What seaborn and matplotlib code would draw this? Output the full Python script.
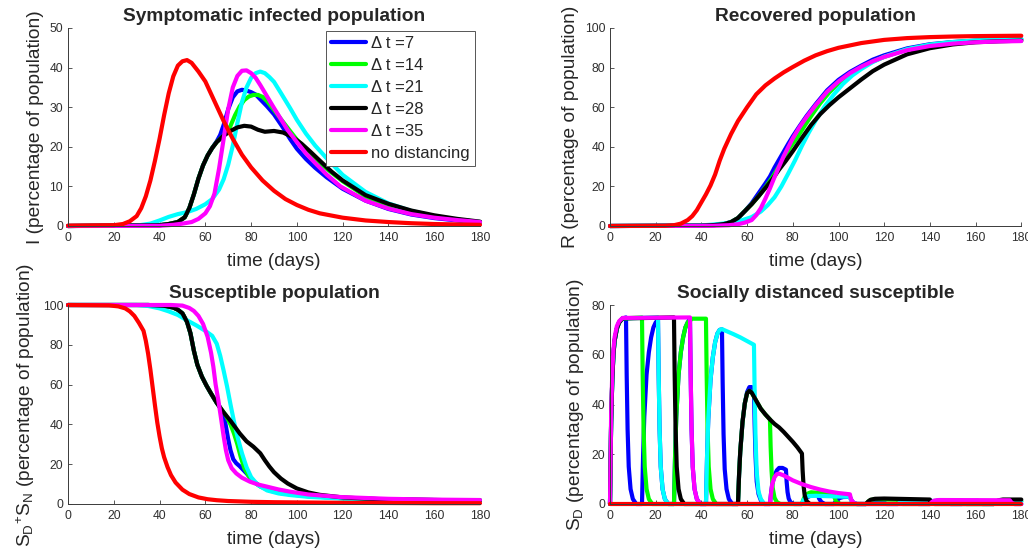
import matplotlib
matplotlib.use("Agg")
import matplotlib.pyplot as plt
import pandas as pd
import seaborn as sns

# ---------------------------------------------------------------------------
# Scenarios: distancing switched on/off every "Δt" days, plus the baseline
# ---------------------------------------------------------------------------
scenarios = ["Δ t =7", "Δ t =14", "Δ t =21", "Δ t =28", "Δ t =35", "no distancing"]
colors = ["#0000ff", "#00ff00", "#00ffff", "#000000", "#ff00ff", "#ff0000"]

x_ticks = [0, 20, 40, 60, 80, 100, 120, 140, 160, 180]

# ---------------------------------------------------------------------------
# Symptomatic infected I (% of population)
# ---------------------------------------------------------------------------
i_dt7_t = [0, 40, 44, 48, 51, 53, 55, 57, 59, 61, 63, 65, 66.5, 68, 70, 72, 74, 76, 78, 80, 82, 84, 87, 90, 94, 97, 100, 104, 108, 113, 120, 130, 140, 150, 160, 170, 180]
i_dt7_v = [0, 0.2, 0.5, 1.0, 2.2, 4.5, 8, 12, 15.3, 17.8, 19.7, 21.4, 23, 25.5, 29.5, 32.5, 34, 34.4, 34.2, 33.8, 33.2, 32, 30.2, 28.2, 24.8, 22, 19.5, 16.9, 14.7, 12.3, 9.4, 6.4, 4.3, 2.9, 2.0, 1.4, 0.9]
i_dt14_t = [0, 40, 44, 48, 51, 53, 55, 57, 59, 61, 63, 65, 68, 69.5, 71, 73, 75, 77, 79, 81, 83, 85, 87, 90, 93, 97, 100, 104, 108, 112, 116, 120, 130, 140, 150, 160, 170, 180]
i_dt14_v = [0, 0.2, 0.5, 1.0, 2.2, 4.5, 8, 12, 15.3, 17.8, 19.7, 21.2, 22.8, 23.6, 25.3, 28, 30.2, 31.8, 32.7, 33.1, 33.1, 32.6, 31.5, 29.3, 27, 24, 21.8, 19.3, 17, 14.9, 13.1, 11.3, 7.5, 5.1, 3.4, 2.4, 1.6, 1.0]
i_dt21_t = [0, 30, 36, 40, 44, 48, 52, 56, 60, 63, 66, 68, 70, 72, 74, 76, 78, 80, 82, 84, 86, 88, 90, 93, 97, 100, 104, 108, 113, 120, 130, 140, 150, 160, 170, 180]
i_dt21_v = [0, 0.1, 0.6, 1.4, 2.3, 3.0, 3.5, 4.3, 5.5, 6.8, 9.2, 11.8, 15.5, 20.3, 26, 31.3, 35, 37.4, 38.6, 39, 38.6, 37.6, 36.4, 33.6, 29.8, 26.8, 23.3, 20.3, 17.1, 12.9, 8.6, 5.7, 3.8, 2.5, 1.6, 1.0]
i_dt28_t = [0, 40, 44, 48, 51, 53, 55, 57, 59, 61, 63, 65, 68, 71, 74, 77, 80, 83, 86, 90, 94, 98, 102, 106, 110, 115, 120, 130, 140, 150, 160, 170, 180]
i_dt28_v = [0, 0.2, 0.5, 1.0, 2.2, 4.5, 8, 12, 15.3, 17.8, 19.7, 21.2, 22.8, 24, 24.9, 25.3, 25.1, 24.3, 23.8, 24, 23.6, 22.5, 20.8, 18.7, 16.5, 13.8, 11.5, 7.8, 5.6, 3.9, 2.7, 1.8, 1.1]
i_dt35_t = [0, 40, 46, 50, 54, 57, 60, 62, 64, 66, 68, 70, 72, 74, 76, 78, 80, 82, 84, 87, 90, 93, 96, 100, 104, 108, 113, 119, 130, 140, 150, 160, 170, 180]
i_dt35_v = [0, 0.05, 0.3, 0.6, 1.0, 1.8, 3.2, 5, 8.2, 14.5, 22, 29.5, 35, 37.9, 39.2, 39.3, 38.6, 37.4, 35.6, 32.7, 29.8, 27, 24.2, 21.2, 18.3, 15.9, 13, 10, 6.4, 4.4, 3.0, 2.1, 1.5, 1.0]
i_none_t = [0, 20, 24, 27, 30, 32, 34, 36, 38, 40, 42, 44, 46, 48, 50, 52, 54, 57, 60, 64, 68, 72, 76, 80, 85, 90, 95, 100, 105, 110, 120, 130, 140, 150, 160, 170, 180]
i_none_v = [0.1, 0.2, 0.5, 1.2, 2.5, 4.5, 7.5, 11.5, 16.5, 22, 28, 33.5, 37.8, 40.5, 41.6, 41.9, 41.2, 39, 36.5, 31.5, 26.5, 22, 18, 14.8, 11.5, 8.9, 6.8, 5.3, 4.1, 3.2, 2.1, 1.4, 1.0, 0.7, 0.5, 0.4, 0.3]

# ---------------------------------------------------------------------------
# Recovered R (% of population)
# ---------------------------------------------------------------------------
r_dt7_t = [0, 40, 46, 50, 53, 56, 59, 62, 65, 68, 70, 72, 74, 76, 78, 80, 83, 86, 90, 95, 100, 105, 110, 115, 120, 130, 140, 150, 160, 170, 180]
r_dt7_v = [0, 0.2, 0.5, 1.0, 2, 4, 7.5, 11.5, 16.5, 21.5, 25, 29.5, 33.5, 37.5, 41.5, 45.3, 50.5, 55.5, 61.5, 68.5, 73.8, 77.8, 81, 84, 86.2, 89.7, 91.8, 92.9, 93.6, 94.1, 94.4]
r_dt14_t = [0, 40, 46, 50, 53, 56, 59, 62, 65, 68, 71, 73, 76, 79, 82, 85, 88, 92, 96, 100, 105, 110, 115, 120, 130, 140, 150, 160, 170, 180]
r_dt14_v = [0, 0.2, 0.5, 1, 2, 4, 7.5, 11, 15, 19.5, 24.5, 28.3, 34, 40, 44.8, 50.3, 55.5, 62, 67.5, 72, 76.6, 80.2, 83.1, 85.4, 89.2, 91.5, 92.8, 93.5, 93.9, 94.1]
r_dt21_t = [0, 40, 46, 50, 54, 58, 62, 66, 69, 72, 75, 78, 81, 84, 87, 90, 94, 98, 102, 106, 110, 115, 120, 130, 140, 150, 160, 170, 180]
r_dt21_v = [0, 0.3, 0.8, 1.3, 2, 3, 4.5, 7.3, 10.5, 14.5, 20, 26.5, 33.2, 40.5, 47.2, 53.3, 60.5, 66.5, 71.8, 76, 79.3, 82.8, 85.5, 89.3, 91.6, 92.9, 93.7, 94.1, 94.3]
r_dt28_t = [0, 40, 46, 50, 53, 56, 59, 62, 65, 68, 71, 74, 77, 80, 84, 88, 92, 96, 100, 105, 110, 115, 120, 130, 140, 150, 160, 170, 180]
r_dt28_v = [0, 0.2, 0.5, 1, 2, 4, 7.5, 11, 15, 19.2, 23.5, 28.5, 33, 37.8, 44.5, 51, 56.5, 61, 65, 69.5, 74, 78.2, 81.5, 86.7, 89.8, 91.7, 92.8, 93.3, 93.6]
r_dt35_t = [0, 45, 52, 56, 59, 62, 64, 66, 68, 70, 72, 74, 76, 78, 80, 83, 86, 90, 95, 100, 105, 110, 115, 120, 130, 140, 150, 160, 170, 180]
r_dt35_v = [0, 0.1, 0.4, 0.9, 1.7, 3, 5.5, 9, 13.8, 19, 24.7, 30, 35.2, 39.8, 44.3, 50, 55, 61, 67.8, 73, 77.2, 80.5, 83.2, 85.4, 88.8, 90.9, 92.1, 92.8, 93.2, 93.4]
r_none_t = [0, 24, 28, 31, 34, 36, 38, 40, 42, 44, 46, 48, 50, 53, 56, 60, 64, 68, 72, 76, 80, 85, 90, 95, 100, 110, 120, 130, 140, 150, 160, 170, 180]
r_none_v = [0, 0.1, 0.4, 1.2, 3, 5, 8, 12, 16, 20.5, 26, 33, 39, 46.5, 53, 60, 66.5, 71, 74.5, 77.6, 80.3, 83.5, 86.2, 88.3, 90, 92.4, 94, 94.9, 95.4, 95.7, 95.9, 96.0, 96.1]

# ---------------------------------------------------------------------------
# Total susceptible S_D + S_N (% of population)
# ---------------------------------------------------------------------------
s_dt7_t = [0, 35, 42, 46, 48, 50, 52, 53.5, 55, 56.5, 58.5, 60.5, 62.5, 65, 66, 68, 69, 70, 71, 72.2, 73.5, 75, 78, 81, 84, 87, 92, 97, 105, 120, 140, 160, 180]
s_dt7_v = [100, 100, 99.6, 98.7, 97.6, 95.8, 91.5, 85.8, 77, 70, 64, 59.5, 55.5, 50.8, 49.3, 45, 39, 32.5, 27, 22.5, 20.5, 19, 15.4, 11.3, 9, 7.5, 6, 5, 4, 3, 2.3, 2.0, 1.8]
s_dt14_t = [0, 35, 42, 46, 48, 50, 52, 53.5, 55, 56.5, 58.5, 60.5, 62.5, 65, 67, 69, 71, 72.5, 74, 75.5, 77, 79, 81, 84, 88, 93, 98, 105, 120, 140, 160, 180]
s_dt14_v = [100, 100, 99.6, 98.7, 97.6, 95.8, 91.5, 85.8, 77, 70, 64, 59.5, 55.5, 50.8, 47.7, 44.5, 40, 35.5, 30, 23.5, 18, 14, 11.3, 8.8, 6.8, 5.5, 4.7, 3.9, 2.9, 2.3, 2.0, 1.8]
s_dt21_t = [0, 30, 35, 40, 44, 48, 52, 56, 60, 63, 65, 66.5, 68, 69.5, 71, 72.5, 74, 76, 78, 80, 83, 87, 92, 97, 105, 120, 140, 160, 180]
s_dt21_v = [100, 100, 99.5, 98.3, 96.8, 95, 92.3, 89.8, 87, 84.5, 80.5, 74.5, 67, 59, 50, 41.5, 34, 25.5, 18.5, 13.5, 9.5, 6.8, 5.3, 4.5, 3.6, 2.7, 2.1, 1.8, 1.7]
s_dt28_t = [0, 35, 42, 46, 48, 50, 52, 53.5, 55, 56.5, 58.5, 60.5, 62.5, 65, 68, 71, 75, 78, 81, 84, 86, 88, 90, 93, 96, 100, 105, 110, 120, 130, 140, 160, 180]
s_dt28_v = [100, 100, 99.6, 98.7, 97.6, 95.8, 91.5, 85.8, 77, 70, 64, 59.5, 55.5, 50.8, 46, 41.8, 35.5, 31.5, 28.8, 25.5, 22, 18.8, 16, 12.8, 10.3, 7.8, 5.8, 4.6, 3.3, 2.7, 2.3, 2.0, 1.8]
s_dt35_t = [0, 45, 50, 53, 55, 57, 59, 61, 62.5, 63.5, 64.5, 65.7, 67, 68, 69, 70, 71.5, 73.5, 76, 79.5, 83, 87, 92, 97, 105, 119, 140, 160, 180]
s_dt35_v = [100, 100, 99.7, 98.5, 97, 94.5, 90.5, 84, 76, 69, 60, 52, 42, 34, 27, 22, 18, 15.4, 13.2, 11.2, 9.8, 8.7, 7.3, 6.2, 4.8, 3.5, 2.6, 2.2, 2.0]
s_none_t = [0, 18, 22, 25, 27, 29, 31, 33, 34, 35, 36, 37, 38, 39, 40, 41, 42, 43.5, 45, 47, 50, 53, 57, 61, 65, 70, 80, 90, 100, 120, 140, 160, 180]
s_none_v = [100, 99.8, 99.3, 98.3, 96.8, 94.5, 91, 87, 82, 75.5, 67.5, 58.5, 49.5, 41, 34, 28, 23.5, 18.5, 14.5, 10.8, 7.2, 5, 3.3, 2.4, 1.9, 1.5, 1.1, 0.9, 0.8, 0.6, 0.5, 0.4, 0.4]

# ---------------------------------------------------------------------------
# Socially distanced susceptible S_D (% of population)
# ---------------------------------------------------------------------------
sd_dt7_t = [0, 0.5, 1, 1.5, 2, 3, 4, 5.5, 7,
            7.3, 7.7, 8.2, 9, 10, 11.5,
            14, 14.5, 15, 16, 17, 18, 19, 20, 21,
            21.3, 21.7, 22.2, 23, 24, 25.5,
            28, 28.5, 29, 30, 31, 32, 33, 34, 35,
            35.3, 35.7, 36.2, 37, 38, 39.5,
            42, 42.5, 43, 44, 45, 46, 47, 48, 49,
            49.3, 49.7, 50.2, 51, 52, 53.5,
            56, 56.5, 57, 58, 59, 60, 61, 62, 63,
            63.3, 63.7, 64.2, 65, 66, 67.5,
            70, 70.5, 71, 72, 73, 74, 75.5, 77,
            77.3, 77.7, 78.2, 79, 80.5,
            84, 85, 86.5, 88, 91, 91.5, 92.5, 94,
            98, 99, 100.5, 102, 105, 105.5, 106.5, 108,
            112, 113, 115, 119, 119.5, 121,
            126, 127, 129, 133, 133.5, 135,
            140, 141, 143, 147, 147.5, 149,
            154, 155, 157, 161, 161.5, 163,
            168, 169, 171, 175, 175.5, 177, 180]
sd_dt7_v = [0, 33, 50, 60, 65.5, 70.5, 73, 74.6, 75,
            52, 30, 15, 6, 2, 0,
            0, 20, 35, 52, 61, 67, 71, 73, 74,
            52, 30, 15, 6, 2, 0,
            0, 20, 35, 52, 61, 67, 71, 73, 74.5,
            52, 30, 15, 6, 2, 0,
            0, 20, 34, 50, 59, 65, 68.5, 70, 70.2,
            49, 28, 14, 6, 2, 0,
            0, 12, 21, 33, 40.5, 45, 47, 47, 46,
            32, 19, 9, 4, 1.5, 0,
            0, 4.5, 8, 11.5, 13.5, 14.5, 14.5, 13.8,
            9, 4.8, 2.2, 0.7, 0,
            0, 1.5, 2.8, 3.4, 3.6, 2.2, 0.8, 0,
            0, 1.3, 2.4, 2.8, 2.9, 1.7, 0.6, 0,
            0, 0.8, 1.5, 1.6, 0.9, 0,
            0, 0.8, 1.3, 1.4, 0.8, 0,
            0, 0.8, 1.3, 1.4, 0.8, 0,
            0, 0.8, 1.2, 1.3, 0.7, 0,
            0, 0.7, 1.1, 1.2, 0.7, 0, 0]
sd_dt14_t = [0, 0.5, 1, 1.5, 2, 3, 4, 5.5, 14,
             14.3, 14.7, 15.2, 16, 17, 18.5,
             28, 28.5, 29, 30, 31, 32, 33, 34, 36, 42,
             42.3, 42.7, 43.2, 44, 45, 46.5,
             56, 56.5, 57, 58, 59, 60, 61, 62, 64, 66, 68, 70,
             70.3, 70.7, 71.2, 72, 73, 74.5,
             84, 84.5, 85, 86, 87, 88, 92, 98,
             98.3, 98.7, 99.5, 101,
             112, 113, 114, 116, 126, 126.5, 128,
             140, 141, 143, 154, 154.5, 156,
             168, 169, 171, 180]
sd_dt14_v = [0, 33, 50, 60, 65.5, 70.5, 73, 74.6, 75,
             52, 30, 15, 6, 2, 0,
             0, 20, 35, 52, 61, 67, 71, 73, 74.5, 74.5,
             52, 30, 15, 6, 2, 0,
             0, 12, 21, 33, 40.5, 44.5, 45.5, 44.8, 41.5, 38.3, 36, 34,
             23, 13.5, 6.5, 2.5, 0.8, 0,
             0, 1.5, 2.6, 3.8, 4.4, 4.7, 4.4, 3.8,
             2.5, 1.5, 0.5, 0,
             0, 1, 1.6, 1.9, 1.7, 1, 0,
             0, 0.8, 1.3, 1.3, 0.8, 0,
             0, 0.7, 1.1, 1.1]
sd_dt21_t = [0, 0.5, 1, 1.5, 2, 3, 4, 5.5, 21,
             21.3, 21.7, 22.2, 23, 24, 25.5,
             42, 42.5, 43, 44, 45, 46, 47, 48, 49, 51, 54, 57, 60, 63,
             63.3, 63.7, 64.2, 65, 66, 67.5,
             84, 84.5, 85, 86, 87, 90, 100, 105,
             105.3, 105.7, 106.5, 108,
             126, 127, 128, 130, 147, 147.5, 149,
             168, 169, 171, 180]
sd_dt21_v = [0, 33, 50, 60, 65.5, 70.5, 73, 74.6, 75,
             52, 30, 15, 6, 2, 0,
             0, 20, 34, 50, 59, 65, 68.5, 70, 70.3, 69.5, 68.3, 67, 65.5, 64,
             45, 26, 13, 5, 2, 0,
             0, 1.2, 2, 2.8, 3.2, 3.3, 3.0, 2.9,
             2, 1.2, 0.4, 0,
             0, 0.7, 1.1, 1.3, 1.2, 0.7, 0,
             0, 0.6, 1, 1]
sd_dt28_t = [0, 0.5, 1, 1.5, 2, 3, 4, 5.5, 28,
             28.3, 28.7, 29.2, 30, 31, 32.5,
             56, 56.5, 57, 58, 59, 60, 61, 62, 64, 66, 68, 70, 72, 74, 76, 78, 80, 82, 84,
             84.3, 84.7, 85.2, 86, 87.5,
             112, 113, 114, 116, 120, 130, 140,
             140.3, 141, 142,
             168, 169, 170, 172, 180]
sd_dt28_v = [0, 33, 50, 60, 65.5, 70.5, 73, 74.6, 75,
             52, 30, 15, 6, 2, 0,
             0, 12, 21, 33, 40.5, 44.5, 45.5, 44.8, 41.5, 38.3, 36, 34, 32.2, 30.8, 29, 27, 25, 22.8, 20.3,
             13.5, 7.5, 3.5, 1.2, 0,
             0, 1, 1.7, 2.1, 2.2, 2.0, 1.8,
             1.2, 0.5, 0,
             0, 1, 1.5, 1.8, 1.8]
sd_dt35_t = [0, 0.5, 1, 1.5, 2, 3, 4, 5.5, 35,
             35.3, 35.7, 36.2, 37, 38, 39.5,
             70, 70.5, 71, 72, 73, 74, 76, 80, 84, 88, 92, 96, 100, 105,
             105.3, 105.7, 106.5, 108,
             140, 141, 142, 144, 175,
             175.3, 176, 177, 180]
sd_dt35_v = [0, 36, 53, 62, 67, 71.5, 73.5, 74.8, 75,
             52, 30, 15, 6, 2, 0,
             0, 4.5, 8, 10.8, 12, 12.2, 11.5, 9.5, 8, 6.8, 5.8, 5, 4.4, 3.9,
             2.6, 1.5, 0.5, 0,
             0, 0.9, 1.4, 1.6, 1.5,
             1, 0.4, 0, 0]
sd_none_t = [0, 180]
sd_none_v = [0, 0]


def long_frame(pairs):
    parts = [pd.DataFrame({"day": t, "value": v, "scenario": name})
             for name, (t, v) in zip(scenarios, pairs)]
    return pd.concat(parts, ignore_index=True)


infected = long_frame([(i_dt7_t, i_dt7_v), (i_dt14_t, i_dt14_v), (i_dt21_t, i_dt21_v),
                       (i_dt28_t, i_dt28_v), (i_dt35_t, i_dt35_v), (i_none_t, i_none_v)])
recovered = long_frame([(r_dt7_t, r_dt7_v), (r_dt14_t, r_dt14_v), (r_dt21_t, r_dt21_v),
                        (r_dt28_t, r_dt28_v), (r_dt35_t, r_dt35_v), (r_none_t, r_none_v)])
susceptible = long_frame([(s_dt7_t, s_dt7_v), (s_dt14_t, s_dt14_v), (s_dt21_t, s_dt21_v),
                          (s_dt28_t, s_dt28_v), (s_dt35_t, s_dt35_v), (s_none_t, s_none_v)])
distanced = long_frame([(sd_dt7_t, sd_dt7_v), (sd_dt14_t, sd_dt14_v), (sd_dt21_t, sd_dt21_v),
                        (sd_dt28_t, sd_dt28_v), (sd_dt35_t, sd_dt35_v), (sd_none_t, sd_none_v)])

# ---------------------------------------------------------------------------
# Styling
# ---------------------------------------------------------------------------
sns.set_style("ticks")
plt.rcParams["font.family"] = ["Liberation Sans", "DejaVu Sans"]
plt.rcParams["mathtext.default"] = "regular"
plt.rcParams["xtick.direction"] = "in"
plt.rcParams["ytick.direction"] = "in"

AX_COLOR = "#3a3a3a"
LW = 3.0
fig = plt.figure(figsize=(10.28, 5.54), dpi=100)

W, H = 1028.0, 554.0
panels = [
    # data, left px, right px, top px, bottom px, ymax, yticks, title, ylabel
    (infected, 68, 480, 28, 226, 50, [0, 10, 20, 30, 40, 50],
     "Symptomatic infected population", "I (percentage of population)"),
    (recovered, 610, 1021.3, 28, 226, 100, [0, 20, 40, 60, 80, 100],
     "Recovered population", "R (percentage of population)"),
    (susceptible, 68, 480, 305, 504, 100, [0, 20, 40, 60, 80, 100],
     "Susceptible population", r"$\mathregular{S_D{}^{+}S_N}$ (percentage of population)"),
    (distanced, 610, 1021.3, 305, 504, 80, [0, 20, 40, 60, 80],
     "Socially distanced susceptible", r"$\mathregular{S_D}$ (percentage of population)"),
]

axes = []
for k, (df, lpx, rpx, tpx, bpx, ymax, yticks, title, ylabel) in enumerate(panels):
    ax = fig.add_axes([lpx / W, 1 - bpx / H, (rpx - lpx) / W, (bpx - tpx) / H])
    sns.lineplot(data=df, x="day", y="value", hue="scenario", hue_order=scenarios,
                 palette=colors, estimator=None, sort=False, linewidth=LW,
                 legend=(k == 0), ax=ax)
    for ln in ax.get_lines():
        ln.set_clip_on(False)
        ln.set_solid_joinstyle("round")
    ax.set_xlim(0, 180)
    ax.set_ylim(0, ymax)
    ax.set_xticks(x_ticks)
    ax.set_yticks(yticks)
    for side in ("top", "right"):
        ax.spines[side].set_visible(False)
    for side in ("left", "bottom"):
        ax.spines[side].set_color(AX_COLOR)
        ax.spines[side].set_linewidth(0.7)
    ax.tick_params(length=3, width=0.6, color=AX_COLOR, labelsize=8.7,
                   labelcolor="#303030", pad=3.5)
    ax.tick_params(axis="x", pad=4.5)
    ax.set_title(title, fontsize=13.8, fontweight="bold", pad=5)
    ax.set_xlabel("time (days)", fontsize=13.7, color="#262626", labelpad=6.5)
    ax.set_ylabel(ylabel, fontsize=13.8, color="#262626", labelpad=4)
    axes.append(ax)

# Legend for the infected panel
ax_i = axes[0]
handles, labels = ax_i.get_legend_handles_labels()
for h in handles:
    h.set_linewidth(LW)
leg = ax_i.legend(handles, labels, loc="upper left",
                  bbox_to_anchor=((326 - 68) / 412.0, (226 - 31) / 198.0),
                  fontsize=12, frameon=True, fancybox=False, framealpha=1,
                  edgecolor="#555555", handlelength=2.1, handletextpad=0.3,
                  labelspacing=0.42, borderpad=0.3, borderaxespad=0)
leg.get_frame().set_linewidth(0.7)

fig.savefig("out.png", dpi=100)
